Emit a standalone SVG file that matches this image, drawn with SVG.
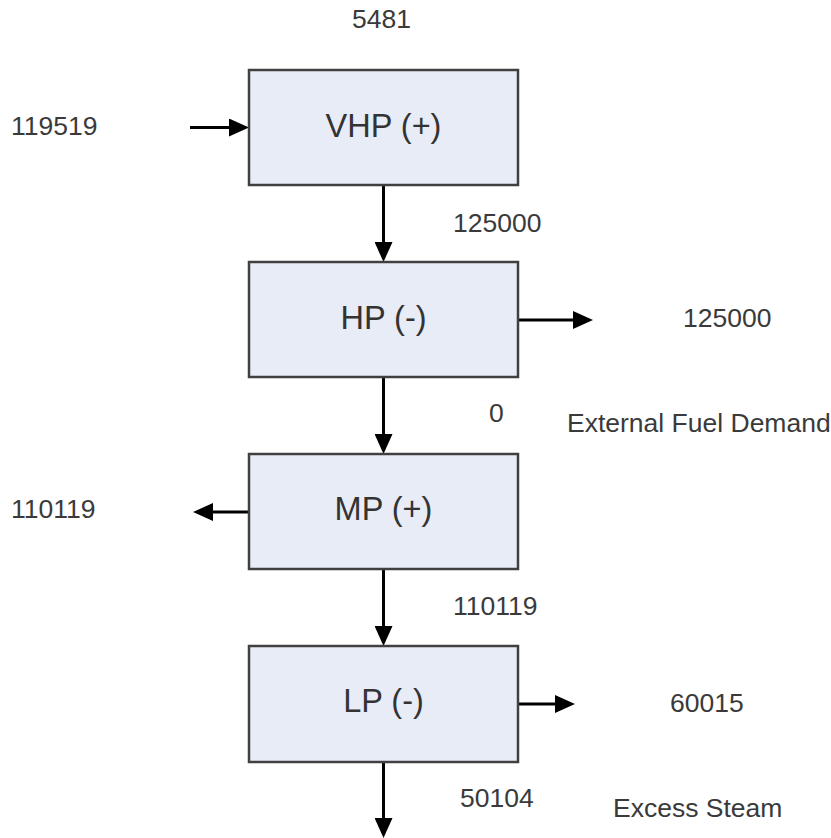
<svg xmlns="http://www.w3.org/2000/svg" width="831" height="838" viewBox="0 0 831 838">
<style>
  .box { fill: #e8ecf6; stroke: #404040; stroke-width: 2.5; }
  .lbl { font-family: "Liberation Sans", Arial, sans-serif; font-size: 32.5px; fill: #333333; text-anchor: middle; }
  .val { font-family: "Liberation Sans", Arial, sans-serif; font-size: 26.5px; fill: #3a3a3a; }
  .conn { stroke: #000000; stroke-width: 3; fill: none; marker-end: url(#arrow); }
</style>
<defs>
  <marker id="arrow" markerUnits="userSpaceOnUse" markerWidth="20" markerHeight="18" refX="10" refY="9" orient="auto">
    <path d="M0,0 L20,9 L0,18 z" fill="#000000"/>
  </marker>
</defs>
<rect width="831" height="838" fill="#ffffff"/>
<g id="connectors">
  <line class="conn" x1="190" y1="127.5" x2="239" y2="127.5"/>
  <line class="conn" x1="383.5" y1="185" x2="383.5" y2="252"/>
  <line class="conn" x1="518" y1="320" x2="583" y2="320"/>
  <line class="conn" x1="383.5" y1="377" x2="383.5" y2="444"/>
  <line class="conn" x1="249" y1="512" x2="203" y2="512"/>
  <line class="conn" x1="383.5" y1="569" x2="383.5" y2="636"/>
  <line class="conn" x1="518" y1="704" x2="565" y2="704"/>
  <line class="conn" x1="383.5" y1="762" x2="383.5" y2="828"/>
</g>
<g id="node-vhp">
  <rect class="box" x="249" y="70" width="269" height="115"/>
  <text class="lbl" x="383.5" y="137">VHP (+)</text>
</g>
<g id="node-hp">
  <rect class="box" x="249" y="262" width="269" height="115"/>
  <text class="lbl" x="383.5" y="329">HP (-)</text>
</g>
<g id="node-mp">
  <rect class="box" x="249" y="454" width="269" height="115"/>
  <text class="lbl" x="383.5" y="520">MP (+)</text>
</g>
<g id="node-lp">
  <rect class="box" x="249" y="646" width="269" height="116"/>
  <text class="lbl" x="383.5" y="712">LP (-)</text>
</g>
<g id="labels">
  <text class="val" x="352" y="28">5481</text>
  <text class="val" x="11" y="135">119519</text>
  <text class="val" x="453" y="232">125000</text>
  <text class="val" x="683" y="327">125000</text>
  <text class="val" x="489" y="422">0</text>
  <text class="val" x="567" y="432">External Fuel Demand</text>
  <text class="val" x="11" y="518">110119</text>
  <text class="val" x="453" y="615">110119</text>
  <text class="val" x="670" y="712">60015</text>
  <text class="val" x="460" y="807">50104</text>
  <text class="val" x="613" y="817">Excess Steam</text>
</g>
</svg>
